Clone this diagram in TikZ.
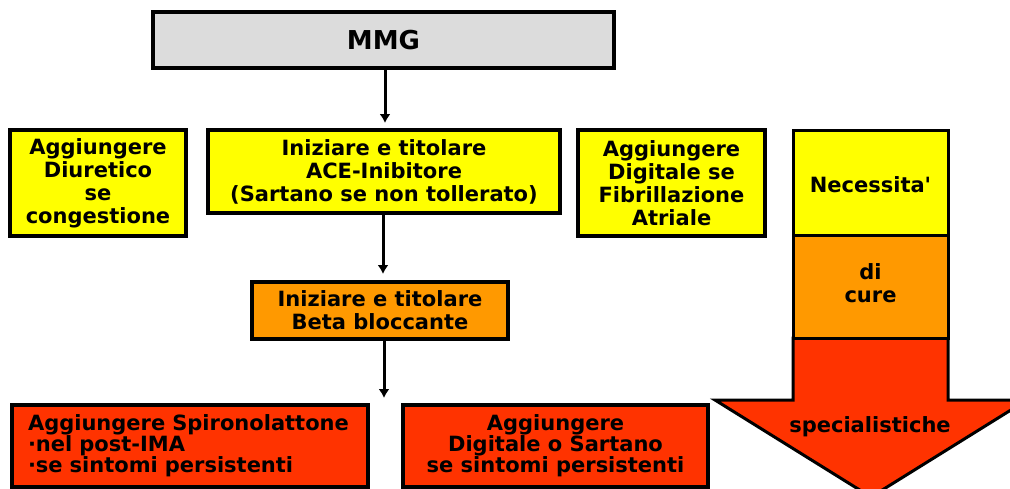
\documentclass[tikz,border=0pt]{standalone}
\usepackage{fontspec}
\setmainfont{DejaVu Sans}[Ligatures=TeXOff]
\usetikzlibrary{arrows.meta}
\definecolor{boxgray}{HTML}{DCDCDC}
\definecolor{byellow}{HTML}{FFFF00}
\definecolor{borange}{HTML}{FF9900}
\definecolor{bred}{HTML}{FF3300}
\tikzset{
  box/.style={draw=black, line width=3.5pt, inner sep=2pt, align=center,
    font=\bfseries\fontsize{21}{23}\selectfont},
  lowbox/.style={box, font=\bfseries\fontsize{21}{21}\selectfont},
  arr/.style={line width=3pt, -{Latex[length=9pt,width=11pt]}},
  lbl/.style={font=\bfseries\fontsize{21}{23}\selectfont, align=center, inner sep=0pt},
  bigshape/.style={draw=black, line width=3pt, line join=miter}
}
\begin{document}
\begin{tikzpicture}[x=1pt,y=-1pt]
\clip (0,0) rectangle (1010,488);
\fill[white] (0,0) rectangle (1010,488);

% big arrow on the right
\filldraw[bigshape, fill=bred] (793,338) -- (948,338) -- (948,400) -- (1027,400)
  -- (871,497) -- (715,400) -- (793,400) -- cycle;
\filldraw[bigshape, fill=borange] (793,235) rectangle (948,338);
\filldraw[bigshape, fill=byellow] (793,130) rectangle (948,235);
\node[lbl] (nec) at (870.5,185) {Necessita'};
\node[lbl] (cure) at (870.5,283) {di\\cure};
\node[lbl] (spec) at (870,427) {specialistiche};

% boxes
\node[box, fill=boxgray, minimum width=461, minimum height=56,
  font=\bfseries\fontsize{26}{28}\selectfont] (mmg) at (383.5,40) {MMG};
\node[box, fill=byellow, minimum width=176, minimum height=106] (diur) at (98,183)
  {Aggiungere\\Diuretico\\se\\congestione};
\node[box, fill=byellow, minimum width=352, minimum height=83] (ace) at (384,171.5)
  {Iniziare e titolare\\ACE-Inibitore\\(Sartano se non tollerato)};
\node[box, fill=byellow, minimum width=187, minimum height=106] (dig) at (671.5,183)
  {Aggiungere\\Digitale se\\Fibrillazione\\Atriale};
\node[box, fill=borange, minimum width=256, minimum height=57] (beta) at (380,310.5)
  {Iniziare e titolare\\Beta bloccante};
\node[lowbox, fill=bred, minimum width=356, minimum height=82, align=left, text width=324] (spir) at (190,446)
  {Aggiungere Spironolattone\\·nel post-IMA\\·se sintomi persistenti};
\node[lowbox, fill=bred, minimum width=305, minimum height=82] (dig2) at (555.5,446)
  {Aggiungere\\Digitale o Sartano\\se sintomi persistenti};

% connectors
\coordinate (end) at (384,398);
\draw[arr, shorten >=7pt] (mmg.south -| 385,0) -- (385,130);
\draw[arr] (383,213) -- (383,274);
\draw[arr] (384,339) -- (end);
\end{tikzpicture}
\end{document}
